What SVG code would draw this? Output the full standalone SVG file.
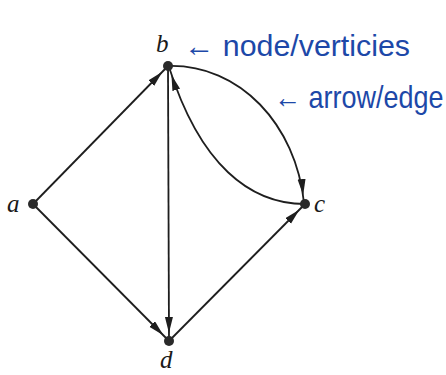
<svg xmlns="http://www.w3.org/2000/svg" width="446" height="375" viewBox="0 0 446 375">
<defs>
<marker id="arr" markerUnits="userSpaceOnUse" markerWidth="30" markerHeight="12" viewBox="0 0 30 12" refX="24" refY="4" orient="auto">
<path d="M0,0 L16,4 L0,8 z" fill="#1e1e1e"/>
</marker>
<style>
.edge{fill:none;stroke:#1e1e1e;stroke-width:1.8;marker-end:url(#arr)}
.dot{fill:#2a2a2a}
.lbl{font-family:"Liberation Serif","DejaVu Serif",serif;font-style:italic;font-size:25px;fill:#1a1a1a}
.hand{font-family:"Liberation Sans Narrow","Liberation Sans",sans-serif;fill:#1d48a8}
</style>
</defs>
<rect width="446" height="375" fill="#ffffff"/>
<g id="connectors">
<path class="edge" d="M33,204 L168,66"/>
<path class="edge" d="M33,204 L169,341"/>
<path class="edge" d="M168,66 L169,341"/>
<path class="edge" d="M169,341 L305,204"/>
<path class="edge" d="M168,66 C240,64 296,125 304,203"/>
<path class="edge" d="M305,204 C250,204 200,165 169,67"/>
</g>
<g id="node-a"><circle class="dot" cx="33" cy="204" r="5"/><text class="lbl" x="7" y="212">a</text></g>
<g id="node-b"><circle class="dot" cx="168" cy="66" r="5"/><text class="lbl" x="156" y="52">b</text></g>
<g id="node-c"><circle class="dot" cx="305" cy="204" r="5"/><text class="lbl" x="314" y="212">c</text></g>
<g id="node-d"><circle class="dot" cx="169" cy="341" r="5"/><text class="lbl" x="160" y="368">d</text></g>
<g id="annotations">
<text class="hand" x="184" y="56" font-size="30" textLength="226" lengthAdjust="spacingAndGlyphs">← node/verticies</text>
<text class="hand" transform="translate(274,108) scale(1,1.15)" x="0" y="0" font-size="27">← arrow/edge</text>
</g>
</svg>
